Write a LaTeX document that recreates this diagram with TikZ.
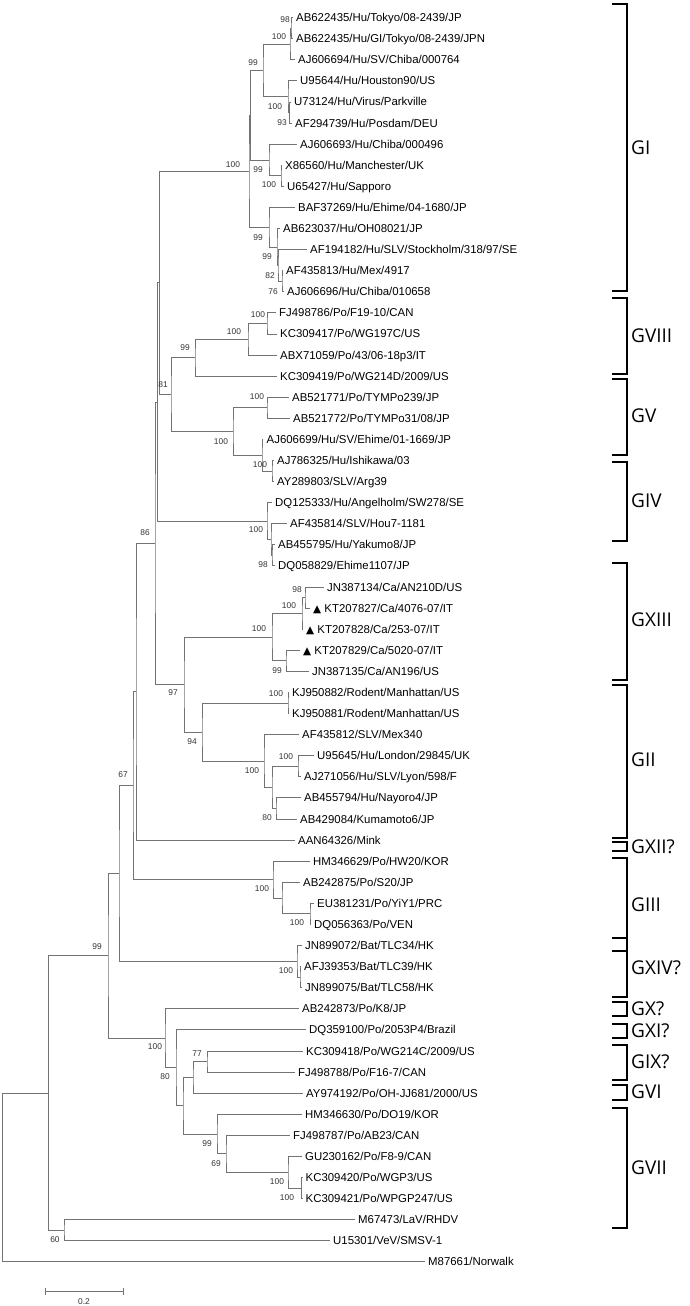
\documentclass[tikz,border=0pt]{standalone}
\usepackage{fontspec}
\setmainfont{Liberation Sans}
\newfontfamily\clfont{Open Sans}
\newfontfamily\symfont{DejaVu Sans}
\usetikzlibrary{calc}
\tikzset{
  br/.style={draw=black!55, line width=0.7pt},
  leaflab/.style={anchor=base west, inner sep=0pt, xshift=3.5pt, yshift=-4.1pt, font=\fontsize{11.4}{13}\selectfont, text=black},
  bs/.style={inner sep=0pt, font=\fontsize{8.4}{9}\selectfont, text=black!80},
  brk/.style={draw=black, line width=1.4pt},
  clab/.style={anchor=west, inner sep=0pt, font=\clfont\fontsize{19}{22}\selectfont},
}
\newcommand\lf[4]{\coordinate (#1) at (#3,{17.5+21.09*(#2-1)}); \node[leaflab] (#1t) at (#1) {#4};}
\newcommand\nd[4]{\coordinate (#1m) at ($(#3)!0.5!(#4)$);
  \path let \p1=(#1m) in coordinate (#1) at (#2pt,\y1);
  \draw[br] (#3) -| (#1) |- (#4);}
\newcommand\tri{{\symfont\fontsize{10.5}{12}\selectfont ▲}}
\begin{document}
\begin{tikzpicture}[x=1pt,y=-1pt]
\useasboundingbox (0,0) rectangle (689,1306);
% leaves
\lf{L1}{1}{292.5}{AB622435/Hu/Tokyo/08-2439/JP}
\lf{L2}{2}{292.5}{AB622435/Hu/GI/Tokyo/08-2439/JPN}
\lf{L3}{3}{294.5}{AJ606694/Hu/SV/Chiba/000764}
\lf{L4}{4}{296.5}{U95644/Hu/Houston90/US}
\lf{L5}{5}{290.5}{U73124/Hu/Virus/Parkville}
\lf{L6}{6}{291.5}{AF294739/Hu/Posdam/DEU}
\lf{L7}{7}{296.5}{AJ606693/Hu/Chiba/000496}
\lf{L8}{8}{281.5}{X86560/Hu/Manchester/UK}
\lf{L9}{9}{283.5}{U65427/Hu/Sapporo}
\lf{L10}{10}{294.5}{BAF37269/Hu/Ehime/04-1680/JP}
\lf{L11}{11}{279.5}{AB623037/Hu/OH08021/JP}
\lf{L12}{12}{306.5}{AF194182/Hu/SLV/Stockholm/318/97/SE}
\lf{L13}{13}{282.5}{AF435813/Hu/Mex/4917}
\lf{L14}{14}{283.5}{AJ606696/Hu/Chiba/010658}
\lf{L15}{15}{275.5}{FJ498786/Po/F19-10/CAN}
\lf{L16}{16}{276.5}{KC309417/Po/WG197C/US}
\lf{L17}{17}{276.5}{ABX71059/Po/43/06-18p3/IT}
\lf{L18}{18}{276.5}{KC309419/Po/WG214D/2009/US}
\lf{L19}{19}{288.5}{AB521771/Po/TYMPo239/JP}
\lf{L20}{20}{289.5}{AB521772/Po/TYMPo31/08/JP}
\lf{L21}{21}{263}{AJ606699/Hu/SV/Ehime/01-1669/JP}
\lf{L22}{22}{273.5}{AJ786325/Hu/Ishikawa/03}
\lf{L23}{23}{273.5}{AY289803/SLV/Arg39}
\lf{L24}{24}{271.5}{DQ125333/Hu/Angelholm/SW278/SE}
\lf{L25}{25}{286.5}{AF435814/SLV/Hou7-1181}
\lf{L26}{26}{274.5}{AB455795/Hu/Yakumo8/JP}
\lf{L27}{27}{274.5}{DQ058829/Ehime1107/JP}
\lf{L28}{28}{323.5}{JN387134/Ca/AN210D/US}
\lf{L29}{29}{309.5}{\tri{} KT207827/Ca/4076-07/IT}
\lf{L30}{30}{302.5}{\tri{} KT207828/Ca/253-07/IT}
\lf{L31}{31}{299.5}{\tri{} KT207829/Ca/5020-07/IT}
\lf{L32}{32}{308.5}{JN387135/Ca/AN196/US}
\lf{L33}{33}{288.5}{KJ950882/Rodent/Manhattan/US}
\lf{L34}{34}{288.5}{KJ950881/Rodent/Manhattan/US}
\lf{L35}{35}{298.5}{AF435812/SLV/Mex340}
\lf{L36}{36}{313.5}{U95645/Hu/London/29845/UK}
\lf{L37}{37}{300.5}{AJ271056/Hu/SLV/Lyon/598/F}
\lf{L38}{38}{300.5}{AB455794/Hu/Nayoro4/JP}
\lf{L39}{39}{296.5}{AB429084/Kumamoto6/JP}
\lf{L40}{40}{294.5}{AAN64326/Mink}
\lf{L41}{41}{309.5}{HM346629/Po/HW20/KOR}
\lf{L42}{42}{299.5}{AB242875/Po/S20/JP}
\lf{L43}{43}{313.5}{EU381231/Po/YiY1/PRC}
\lf{L44}{44}{310.5}{DQ056363/Po/VEN}
\lf{L45}{45}{301.5}{JN899072/Bat/TLC34/HK}
\lf{L46}{46}{300.5}{AFJ39353/Bat/TLC39/HK}
\lf{L47}{47}{301.5}{JN899075/Bat/TLC58/HK}
\lf{L48}{48}{298.5}{AB242873/Po/K8/JP}
\lf{L49}{49}{305.5}{DQ359100/Po/2053P4/Brazil}
\lf{L50}{50}{302.5}{KC309418/Po/WG214C/2009/US}
\lf{L51}{51}{294.5}{FJ498788/Po/F16-7/CAN}
\lf{L52}{52}{302.5}{AY974192/Po/OH-JJ681/2000/US}
\lf{L53}{53}{301.5}{HM346630/Po/DO19/KOR}
\lf{L54}{54}{289.5}{FJ498787/Po/AB23/CAN}
\lf{L55}{55}{301.5}{GU230162/Po/F8-9/CAN}
\lf{L56}{56}{302}{KC309420/Po/WGP3/US}
\lf{L57}{57}{302}{KC309421/Po/WPGP247/US}
\lf{L58}{58}{354.5}{M67473/LaV/RHDV}
\lf{L59}{59}{329.5}{U15301/VeV/SMSV-1}
\lf{L60}{60}{424.5}{M87661/Norwalk}
% internal nodes
\nd{a1}{291}{L1}{L2}
\nd{a2}{290}{a1}{L3}
\nd{a3}{289.5}{L5}{L6}
\nd{a4}{288}{L4}{a3}
\nd{a5}{263}{a2}{a4}
\nd{a6}{281}{L8}{L9}
\nd{a7}{269}{L7}{a6}
\nd{a8}{250.5}{a5}{a7}
\nd{a9}{282}{L13}{L14}
\nd{a10}{278}{L12}{a9}
\nd{a11}{277}{L11}{a10}
\nd{a12}{269}{L10}{a11}
\nd{a13}{249}{a8}{a12}
\nd{v1}{267}{L15}{L16}
\nd{v2}{248}{v1}{L17}
\nd{v3}{195}{v2}{L18}
\nd{w1}{267}{L19}{L20}
\nd{w2}{272}{L22}{L23}
\nd{w3}{262}{L21}{w2}
\nd{w4}{233}{w1}{w3}
\nd{n81}{171}{v3}{w4}
\nd{g1}{272}{L26}{L27}
\nd{g2}{271}{L25}{g1}
\nd{g3}{267}{L24}{g2}
\nd{n159}{159.5}{a13}{n81}
\nd{n157}{157.5}{n159}{g3}
\nd{t1}{305}{L28}{L29}
\nd{t2}{302}{t1}{L30}
\nd{t3}{286}{L31}{L32}
\nd{t4}{272}{t2}{t3}
\nd{r1}{288}{L33}{L34}
\nd{h1}{298}{L36}{L37}
\nd{h2}{276}{L38}{L39}
\nd{h3}{272}{h1}{h2}
\nd{h4}{264}{L35}{h3}
\nd{n94}{202}{r1}{h4}
\nd{n97}{184}{t4}{n94}
\nd{n86}{155}{n157}{n97}
\nd{nB}{136}{n86}{L40}
\nd{i1}{310}{L43}{L44}
\nd{i2}{282}{L42}{i1}
\nd{i3}{273}{L41}{i2}
\nd{nA}{133}{nB}{i3}
\nd{b1}{300}{L46}{L47}
\nd{b2}{297}{L45}{b1}
\nd{n67}{119}{nA}{b2}
\nd{c1}{207}{L50}{L51}
\nd{c2}{193}{c1}{L52}
\nd{c3}{301.5}{L56}{L57}
\nd{c4}{288}{L55}{c3}
\nd{c5}{226}{L54}{c4}
\nd{c6}{217}{L53}{c5}
\nd{c7}{183}{c2}{c6}
\nd{c8}{176}{L49}{c7}
\nd{c9}{165}{L48}{c8}
\nd{n99}{108}{n67}{c9}
\nd{n60}{64}{L58}{L59}
\nd{n48}{48.5}{n99}{n60}
\nd{root}{2.5}{n48}{L60}
% bootstrap values
\node[bs] (s1) at (285,20) {98};
\node[bs] (s2) at (279,37) {100};
\node[bs] (s3) at (253,63) {99};
\node[bs] (s4) at (275,107) {100};
\node[bs] (s5) at (282,123) {93};
\node[bs] (s6) at (233,165) {100};
\node[bs] (s7) at (258,170) {99};
\node[bs] (s8) at (269,185) {100};
\node[bs] (s9) at (258,238) {99};
\node[bs] (s10) at (267,257) {99};
\node[bs] (s11) at (270,276) {82};
\node[bs] (s12) at (273,292) {76};
\node[bs] (s13) at (258,315) {100};
\node[bs] (s14) at (234,332) {100};
\node[bs] (s15) at (185,348) {99};
\node[bs] (s16) at (257,397) {100};
\node[bs] (s17) at (221,442) {100};
\node[bs] (s18) at (260,465) {100};
\node[bs] (s19) at (256,530) {100};
\node[bs] (s20) at (263,565) {98};
\node[bs] (s21) at (297,590) {98};
\node[bs] (s22) at (163,385) {81};
\node[bs] (s23) at (145,533) {86};
\node[bs] (s24) at (289,606) {100};
\node[bs] (s25) at (259,629) {100};
\node[bs] (s26) at (277,671) {99};
\node[bs] (s27) at (173,693) {97};
\node[bs] (s28) at (276,694) {100};
\node[bs] (s29) at (192,742) {94};
\node[bs] (s30) at (286,757) {100};
\node[bs] (s31) at (252,771) {100};
\node[bs] (s32) at (267,818) {80};
\node[bs] (s33) at (123,775) {67};
\node[bs] (s34) at (262,889) {100};
\node[bs] (s35) at (297,923) {100};
\node[bs] (s36) at (286,971) {100};
\node[bs] (s37) at (97,947) {99};
\node[bs] (s38) at (155,1047) {100};
\node[bs] (s39) at (165,1077) {80};
\node[bs] (s40) at (197,1054) {77};
\node[bs] (s41) at (207,1144) {99};
\node[bs] (s42) at (216,1164) {69};
\node[bs] (s43) at (277,1182) {100};
\node[bs] (s44) at (287,1198) {100};
\node[bs] (s45) at (55,1240) {60};
% scale bar
\coordinate (sbl) at (45,1291);
\coordinate (sbr) at (123,1291);
\draw[br] (sbl) -- (sbr);
\draw[br] ($(sbl)+(0,-3.5)$) -- ($(sbl)+(0,3.5)$);
\draw[br] ($(sbr)+(0,-3.5)$) -- ($(sbr)+(0,3.5)$);
\node[bs] (sbt) at (84,1302) {0.2};
% clade brackets
\foreach \nm/\top/\bot/\ly in {GI/4/291/148, GVIII/298/374/336, GV/379/455/416, GIV/462/541/501, GXIII/563/680/620, GII/685/838/760, GXII?/842/851/847, GIII/858/951/905, GXIV?/938/997/968, GX?/1002/1016/1009, GXI?/1024/1038/1031, GIX?/1045/1080/1062, GVI/1085/1100/1092, GVII/1108/1228/1168}{
  \draw[brk] (612,\top) -- (627,\top) -- (627,\bot) -- (612,\bot);
  \node[clab] (c\nm) at (631,\ly) {\nm};
}
\end{tikzpicture}
\end{document}
